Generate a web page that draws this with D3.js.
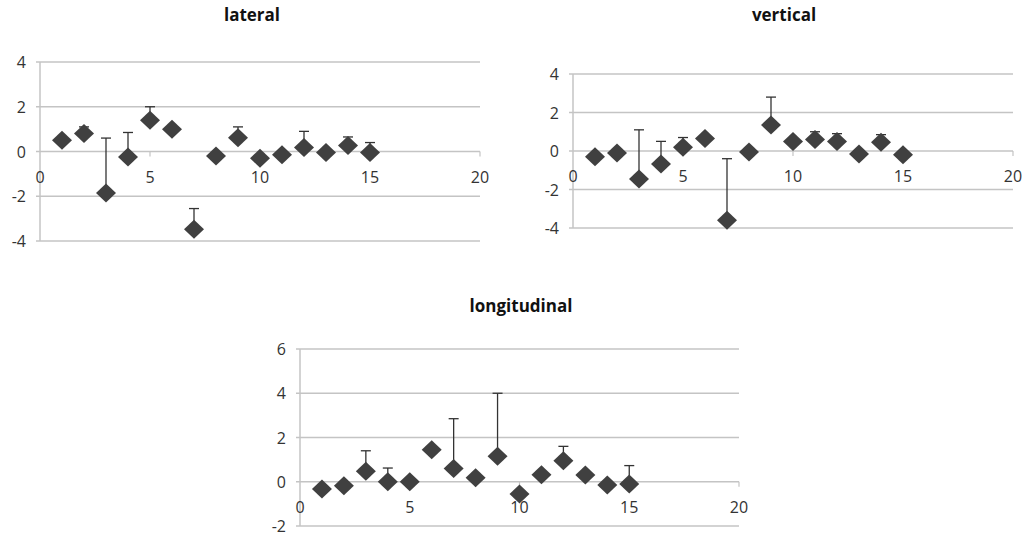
<!DOCTYPE html>
<html>
<head>
<meta charset="UTF-8" />
<title>lateral / vertical / longitudinal</title>
<script src="https://d3js.org/d3.v7.min.js"></script>
<style>
  body { margin: 0; background: #fff; }
  .tick-label { font-family: "Open Sans", sans-serif; font-size: 16px; fill: #333; }
  .title { font-family: "Open Sans", sans-serif; font-size: 17px; font-weight: bold; fill: #111; }
</style>
</head>
<body>
<svg id="chart" width="1024" height="538"></svg>
<script>

// x positions are 1..15 for every panel
const points = [1, 2, 3, 4, 5, 6, 7, 8, 9, 10, 11, 12, 13, 14, 15];
const xTicks = [0, 5, 10, 15, 20];

// mean values and top of the (plus only) error bar, null = no bar visible
const lateralValues = [0.5, 0.8, -1.85, -0.25, 1.4, 1.0, -3.47, -0.2, 0.62, -0.3, -0.15, 0.18, -0.05, 0.27, -0.05];
const lateralUpper  = [null, 1.1, 0.6, 0.85, 2.0, null, -2.55, null, 1.1, null, null, 0.9, null, 0.65, 0.4];
const lateralTicks  = [-4, -2, 0, 2, 4];

const verticalValues = [-0.3, -0.1, -1.45, -0.68, 0.2, 0.65, -3.6, -0.05, 1.35, 0.5, 0.6, 0.5, -0.15, 0.45, -0.2];
const verticalUpper  = [null, null, 1.1, 0.5, 0.7, null, -0.4, null, 2.8, null, 1.0, 0.9, null, 0.85, null];
const verticalTicks  = [-4, -2, 0, 2, 4];

const longValues = [-0.33, -0.18, 0.47, 0.0, 0.0, 1.45, 0.6, 0.18, 1.15, -0.55, 0.32, 0.95, 0.3, -0.15, -0.1];
const longUpper  = [null, null, 1.4, 0.62, null, null, 2.85, null, 4.0, null, null, 1.6, null, null, 0.73];
const longTicks  = [-2, 0, 2, 4, 6];

const svg = d3.select("#chart");

function drawPanel(p) {
  const g = svg.append("g");
  const x = d3.scaleLinear().domain([0, 20]).range([p.left, p.right]);
  const y = d3.scaleLinear().domain(d3.extent(p.ticks)).range([p.bottom, p.top]);

  g.append("text").attr("class", "title")
    .attr("x", p.titleX).attr("y", p.titleY)
    .attr("text-anchor", "middle").text(p.title);

  // gridlines
  g.selectAll(".grid").data(p.ticks).enter().append("line")
    .attr("x1", x(0) - 4).attr("x2", x(20))
    .attr("y1", d => y(d)).attr("y2", d => y(d))
    .attr("stroke", "#c4c4c4").attr("stroke-width", 1.5);

  // y axis line
  g.append("line")
    .attr("x1", x(0)).attr("x2", x(0))
    .attr("y1", y(p.ticks[0])).attr("y2", y(p.ticks[p.ticks.length - 1]))
    .attr("stroke", "#c4c4c4").attr("stroke-width", 1.5);

  g.selectAll(".ylab").data(p.ticks).enter().append("text")
    .attr("class", "tick-label")
    .attr("x", x(0) - 14).attr("y", d => y(d) + 6)
    .attr("text-anchor", "end").text(d => d);

  // x tick marks on the zero line
  g.selectAll(".xtick").data(xTicks.slice(1)).enter().append("line")
    .attr("x1", d => x(d)).attr("x2", d => x(d))
    .attr("y1", y(0)).attr("y2", y(0) + 5)
    .attr("stroke", "#c4c4c4").attr("stroke-width", 1.2);

  g.selectAll(".xlab").data(xTicks).enter().append("text")
    .attr("class", "tick-label")
    .attr("x", d => x(d)).attr("y", y(0) + 31)
    .attr("text-anchor", "middle").text(d => d);

  // error bars
  const bars = points.map((d, i) => ({ x: d, v: p.values[i], u: p.upper[i] }))
    .filter(d => d.u !== null);
  g.selectAll(".err").data(bars).enter().append("line")
    .attr("x1", d => x(d.x)).attr("x2", d => x(d.x))
    .attr("y1", d => y(d.v)).attr("y2", d => y(d.u))
    .attr("stroke", "#333").attr("stroke-width", 1.3);
  g.selectAll(".cap").data(bars).enter().append("line")
    .attr("x1", d => x(d.x) - 5).attr("x2", d => x(d.x) + 5)
    .attr("y1", d => y(d.u)).attr("y2", d => y(d.u))
    .attr("stroke", "#333").attr("stroke-width", 1.3);

  // diamonds
  g.selectAll(".pt").data(points).enter().append("path")
    .attr("transform", (d, i) => `translate(${x(d)},${y(p.values[i])})`)
    .attr("d", "M0,-9.5L10,0L0,9.5L-10,0Z")
    .attr("fill", "#404040");
}

drawPanel({ title: "lateral", titleX: 252, titleY: 21, values: lateralValues, upper: lateralUpper,
  ticks: lateralTicks, left: 40, right: 480, top: 62, bottom: 241 });
drawPanel({ title: "vertical", titleX: 784, titleY: 21, values: verticalValues, upper: verticalUpper,
  ticks: verticalTicks, left: 573, right: 1013, top: 74, bottom: 228 });
drawPanel({ title: "longitudinal", titleX: 521, titleY: 312, values: longValues, upper: longUpper,
  ticks: longTicks, left: 300, right: 739, top: 349, bottom: 526 });

</script>
</body>
</html>
